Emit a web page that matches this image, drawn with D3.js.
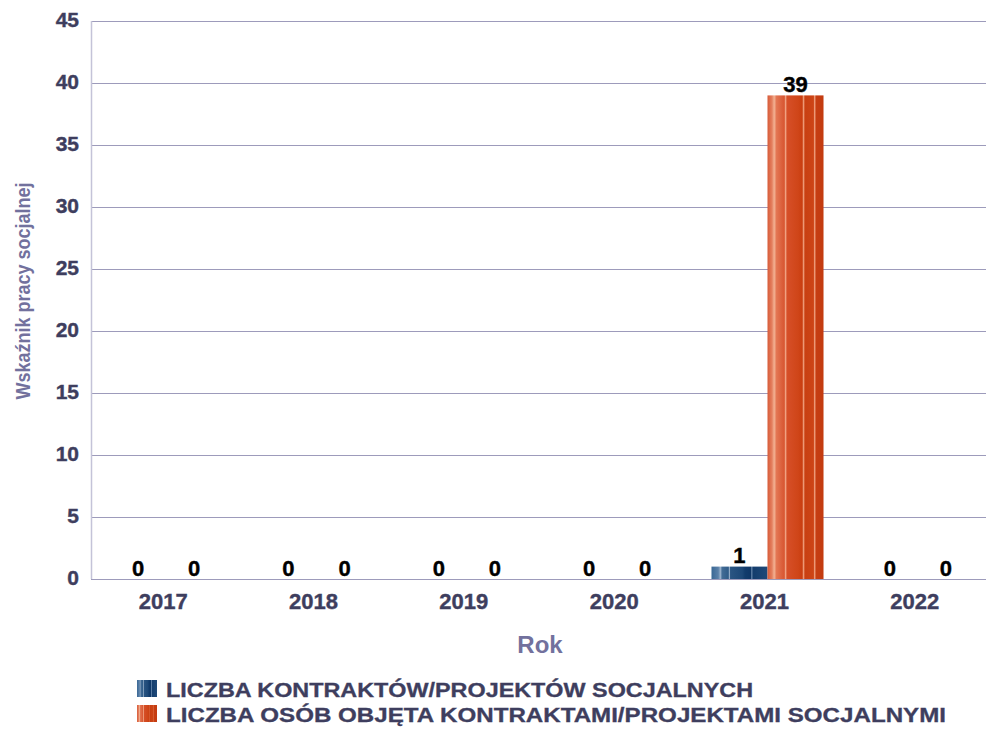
<!DOCTYPE html>
<html>
<head>
<meta charset="utf-8">
<script src="https://cdn.jsdelivr.net/npm/d3@7"></script>
<style>
  body { margin: 0; background: #fff; }
  text { font-family: "Liberation Sans", Arial, sans-serif; font-weight: bold; }
</style>
</head>
<body>
<div id="chart"></div>
<script>
// Data
const years = ['2017', '2018', '2019', '2020', '2021', '2022'];
const seriesNames = [
  'LICZBA KONTRAKTÓW/PROJEKTÓW SOCJALNYCH',
  'LICZBA OSÓB OBJĘTA KONTRAKTAMI/PROJEKTAMI SOCJALNYMI',
];
const contracts = [0, 0, 0, 0, 1, 0];
const persons = [0, 0, 0, 0, 39, 0];
const yTicks = [0, 5, 10, 15, 20, 25, 30, 35, 40, 45];

const width = 986;
const height = 730;
const plotLeft = 91;
const plotRight = 993; // runs a little past the window edge
const plotTop = 21;
const plotBottom = 579;

const svg = d3
  .select('#chart')
  .append('svg')
  .attr('width', width)
  .attr('height', height);

// bar textures (vertical stripes)
const defs = svg.append('defs');
function stripes(id, stops) {
  const g = defs.append('linearGradient').attr('id', id).attr('x1', 0).attr('x2', 1).attr('y1', 0).attr('y2', 0);
  stops.forEach((s) => g.append('stop').attr('offset', s[0]).attr('stop-color', s[1]));
}
stripes('gBlue', [
  [0, '#3a6895'], [0.12, '#5a80a8'], [0.16, '#9ab2cc'], [0.19, '#426c96'],
  [0.3, '#305c88'], [0.32, '#9ab2cc'], [0.34, '#2a5582'], [0.55, '#1d4877'],
  [0.6, '#123c6c'], [0.7, '#0f3767'], [0.72, '#6f8fb3'], [0.74, '#143d6d'],
  [1, '#1f4978'],
]);
stripes('gOrange', [
  [0, '#d75a38'], [0.08, '#e4805f'], [0.12, '#f3b293'], [0.16, '#e37653'],
  [0.3, '#d85631'], [0.32, '#f1a585'], [0.35, '#d64f28'], [0.55, '#cf4518'],
  [0.62, '#c93d10'], [0.64, '#f0a07e'], [0.67, '#c83f12'], [0.82, '#cd4416'],
  [0.84, '#ee9c7a'], [0.87, '#c63d12'], [1, '#c33b10'],
]);
const fills = ['url(#gBlue)', 'url(#gOrange)'];

// Scales
const x0 = d3.scaleBand().domain(years).range([plotLeft, plotRight]).padding(0);
const x1 = d3
  .scaleBand()
  .domain([0, 1])
  .range([0, x0.bandwidth()])
  .paddingInner(0)
  .paddingOuter(0.342);
const y = d3.scaleLinear().domain([0, 45]).range([plotBottom, plotTop]);

// Grid
svg
  .selectAll('.grid')
  .data(yTicks)
  .enter()
  .append('line')
  .attr('x1', plotLeft)
  .attr('x2', plotRight)
  .attr('y1', (d) => Math.round(y(d)) + 0.5)
  .attr('y2', (d) => Math.round(y(d)) + 0.5)
  .attr('stroke', '#9d9bbb')
  .attr('stroke-width', 1);

// Y axis line
svg
  .append('line')
  .attr('x1', plotLeft + 0.5)
  .attr('x2', plotLeft + 0.5)
  .attr('y1', plotTop)
  .attr('y2', plotBottom)
  .attr('stroke', '#c4c3d8')
  .attr('stroke-width', 1.5);

// Y tick labels
svg
  .selectAll('.ytick')
  .data(yTicks)
  .enter()
  .append('text')
  .attr('x', 79)
  .attr('y', (d) => y(d) + 6)
  .attr('text-anchor', 'end')
  .attr('fill', '#3e3e5e')
  .attr('stroke', '#3e3e5e')
  .attr('stroke-width', 0.4)
  .style('font-size', '21px')
  .text((d) => d);

// Bars
const series = [contracts, persons];
series.forEach((vals, s) => {
  svg
    .selectAll('.bar' + s)
    .data(years)
    .enter()
    .append('rect')
    .attr('x', (d) => x0(d) + x1(s))
    .attr('width', x1.bandwidth())
    .attr('y', (d, i) => y(vals[i]))
    .attr('height', (d, i) => y(0) - y(vals[i]))
    .attr('fill', fills[s]);

  svg
    .selectAll('.val' + s)
    .data(years)
    .enter()
    .append('text')
    .attr('x', (d) => x0(d) + x1(s) + x1.bandwidth() / 2)
    .attr('y', (d, i) => y(vals[i]) - 3.5)
    .attr('text-anchor', 'middle')
    .attr('fill', '#000')
    .attr('stroke', '#000')
    .attr('stroke-width', 0.4)
    .style('font-size', '22px')
    .text((d, i) => vals[i]);
});

// X tick labels
svg
  .selectAll('.xtick')
  .data(years)
  .enter()
  .append('text')
  .attr('x', (d) => x0(d) + x0.bandwidth() / 2 - 3)
  .attr('y', 609)
  .attr('text-anchor', 'middle')
  .attr('fill', '#3e3e5e')
  .attr('stroke', '#3e3e5e')
  .attr('stroke-width', 0.4)
  .style('font-size', '22px')
  .text((d) => d);

// Axis titles
svg
  .append('text')
  .attr('x', 540)
  .attr('y', 653)
  .attr('text-anchor', 'middle')
  .attr('fill', '#72719d')
  .style('font-size', '24px')
  .text('Rok');

svg
  .append('text')
  .attr('transform', 'translate(30,291) rotate(-90)')
  .attr('text-anchor', 'middle')
  .attr('fill', '#72719d')
  .style('font-size', '21px')
  .attr('textLength', 217)
  .attr('lengthAdjust', 'spacingAndGlyphs')
  .text('Wskaźnik pracy socjalnej');

// Legend
const legendY = [680, 705];
const legendW = [587, 780];
seriesNames.forEach((name, i) => {
  svg
    .append('rect')
    .attr('x', 137)
    .attr('y', legendY[i])
    .attr('width', 20)
    .attr('height', 17)
    .attr('fill', fills[i]);
  svg
    .append('text')
    .attr('x', 166)
    .attr('y', legendY[i] + 17)
    .attr('fill', '#3e3e5e')
    .attr('stroke', '#3e3e5e')
    .attr('stroke-width', 0.3)
    .style('font-size', '19.5px')
    .attr('textLength', legendW[i])
    .attr('lengthAdjust', 'spacingAndGlyphs')
    .text(name);
});
</script>
</body>
</html>
